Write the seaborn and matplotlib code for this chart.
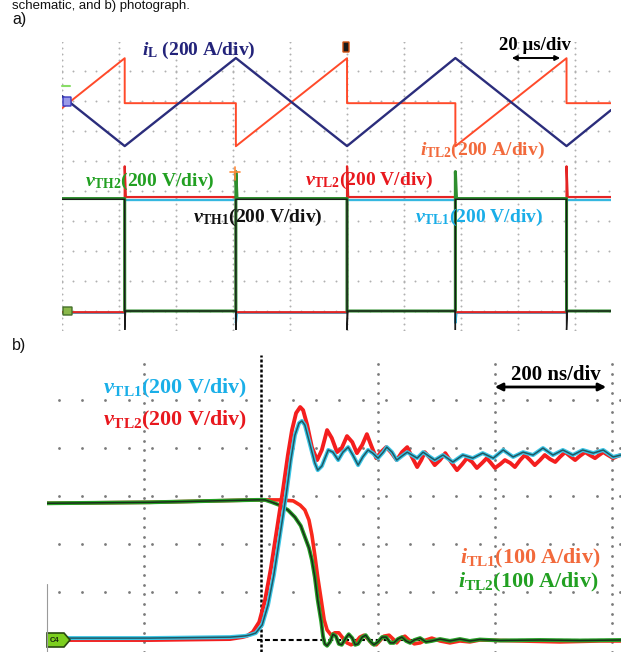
import numpy as np
import pandas as pd
import matplotlib
matplotlib.use("Agg")
import matplotlib.pyplot as plt
from matplotlib.patches import Polygon, FancyBboxPatch
import seaborn as sns

# ---------------- panel a) : 20 us/div, 200 A/div, 200 V/div ----------------
a_t_iL = [0, 22, 61, 100, 138, 177, 192.6]                      # us
a_iL = [33, -300, 287, -300, 287, -300, -60]                     # A

a_t_iTL2 = [0, 22, 22, 61, 61, 100, 100, 138, 138, 177, 177, 192.6]
a_iTL2 = [-33, 300, 0, 0, -287, 300, 0, 0, -287, 300, 0, 0]

a_t_vTH2 = [0, 22, 22, 61, 61, 61.4, 100, 100, 138, 138, 138.4, 177, 177, 192.6]
a_vTH2 = [750, 750, 0, 0, 930, 750, 750, 0, 0, 930, 750, 750, 0, 0]  # V

a_t_vTL2 = [0, 22, 22, 22.4, 61, 61, 100, 100, 100.4, 138, 138, 177, 177, 177.4, 192.6]
a_vTL2 = [-8, -8, 965, 760, 760, -8, -8, 965, 760, 760, -8, -8, 965, 760, 760]

a_t_vTH1 = [0, 22, 22, 22.3, 61, 61, 61, 100, 100, 100.3, 138, 138, 138, 177, 177, 177.3, 192.6]
a_vTH1 = [745, 745, -130, 0, 0, -130, 745, 745, -130, 0, 0, -130, 745, 745, -130, 0, 0]

a_t_vTL1 = [0, 22, 22, 61, 61, 61.4, 100, 100, 138, 138, 138.4, 177, 177, 192.6]
a_vTL1 = [-12, -12, 740, 740, -80, -12, -12, 740, 740, -80, -12, -12, 740, 740]

# ---------------- panel b) : 200 ns/div, 200 V/div, 100 A/div ----------------
b_t_vTL1 = [-366, -190, -53, -27, -19, -9, 2, 12, 22, 32, 43, 51, 58, 65, 70, 75, 84, 92, 97,
            104, 115, 123, 132, 140, 149, 157, 166, 174, 183, 191, 200, 209, 215, 224, 232,
            241, 250, 258, 267, 277, 297, 311, 328, 345, 362, 379, 397, 414, 431, 448, 465,
            482, 499, 516, 533, 550, 568, 585, 602, 615]
b_vTL1 = [8, 8, 12, 17, 21, 29, 63, 146, 271, 429, 604, 750, 854, 904, 913, 896, 813, 738, 708,
          725, 792, 783, 750, 783, 804, 771, 729, 763, 792, 779, 758, 783, 804, 783, 750,
          767, 783, 771, 758, 783, 750, 771, 742, 771, 758, 779, 758, 792, 763, 783, 771,
          800, 771, 792, 771, 792, 779, 792, 763, 771]

b_t_vTL2 = [-366, -190, -53, -32, -24, -14, -3, 7, 17, 27, 38, 46, 53, 60, 67, 72, 79, 87, 96,
            104, 113, 121, 130, 138, 147, 156, 164, 173, 181, 188, 197, 205, 214, 222, 232,
            241, 250, 258, 267, 274, 280, 289, 297, 306, 315, 325, 335, 344, 352, 361, 369,
            378, 386, 393, 400, 409, 417, 426, 434, 443, 451, 460, 468, 477, 485, 494, 503,
            511, 520, 528, 537, 545, 554, 562, 571, 578, 585, 593, 602, 610, 615]
b_vTL2 = [0, 0, 4, 12, 17, 33, 75, 167, 300, 458, 633, 771, 875, 946, 971, 958, 896, 804, 750,
          792, 875, 842, 783, 800, 850, 825, 779, 813, 858, 813, 758, 783, 804, 783, 750,
          783, 804, 763, 721, 750, 783, 758, 729, 750, 779, 742, 708, 733, 758, 742, 717,
          738, 758, 738, 717, 733, 750, 738, 721, 750, 771, 750, 729, 750, 771, 754, 742,
          763, 783, 767, 750, 767, 783, 771, 758, 771, 783, 771, 758, 767, 771]

b_t_iTL1 = [-366, -190, -7, 32, 55, 67, 75, 82, 87, 92, 97, 103, 108, 113, 120, 126, 133, 140,
            147, 154, 161, 169, 176, 183, 190, 197, 203, 210, 219, 226, 232, 239, 246, 253,
            262, 272, 282, 292, 306, 323, 340, 357, 374, 443, 511, 579, 615]
b_iTL1 = [285, 287, 292, 292, 290, 281, 271, 250, 219, 177, 131, 83, 42, 21, 10, 15, 15, 4,
          -6, -10, -6, 6, 10, 2, -8, -10, -2, 8, 10, 2, -6, 4, 8, 0,
          -8, -6, 0, 4, -2, -6, -2, -4, 0, -2, -4, -2, -2]

b_t_iTL2 = [-366, -190, -7, 7, 19, 32, 46, 58, 68, 75, 82, 87, 92, 97, 103, 106, 109, 113, 118,
            123, 128, 133, 138, 145, 150, 156, 161, 166, 173, 179, 186, 193, 200, 207, 214,
            221, 227, 234, 241, 248, 255, 262, 272, 282, 292, 306, 323, 340, 357, 374, 409,
            477, 545, 615]
b_iTL2 = [285, 287, 292, 292, 287, 281, 271, 256, 238, 215, 192, 167, 131, 83, 38, 8, -8, -12, -4,
          12, 8, -8, -10, 4, 12, 4, -10, -8, 6, 10, -2, -10, -4, 6, 6,
          -6, -6, 2, 6, -2, -6, 0, 4, -4, -2, 2, -2, 2, -2, 1, -1,
          0, -1, 0]

W, H = 621, 652
sns.set_theme(style="white")
plt.rcParams['font.family'] = ['Liberation Serif', 'DejaVu Serif']
plt.rcParams['font.weight'] = 'bold'
plt.rcParams['mathtext.fontset'] = 'custom'
plt.rcParams['mathtext.rm'] = 'Liberation Serif:bold'
plt.rcParams['mathtext.it'] = 'Liberation Serif:italic:bold'
plt.rcParams['mathtext.bf'] = 'Liberation Serif:bold'

fig = plt.figure(figsize=(W / 100, H / 100), dpi=100)
fig.patch.set_facecolor('white')


def fx(x):
    return x / W


def fy(y):
    return 1 - y / H


def T(x, y, s, **kw):
    kw.setdefault('va', 'center')
    kw.setdefault('ha', 'left')
    fig.text(fx(x), fy(y), s, **kw)


def dot_grid(ax, xs, ys, xlim, ylim, dx, dy, color, ms):
    for x in xs:
        yy = np.arange(ylim[0], ylim[1], dy)
        ax.plot(np.full_like(yy, x), yy, ls='none', marker='o', ms=ms, mew=0, color=color, zorder=0)
    for y in ys:
        xx = np.arange(xlim[0], xlim[1], dx)
        ax.plot(xx, np.full_like(xx, y), ls='none', marker='o', ms=ms, mew=0, color=color, zorder=0)


# ---------------- axes a ----------------
axa = fig.add_axes([fx(62), fy(330), 549 / W, 288 / H])
axa.set_xlim(0, 192.6)
axa.set_ylim(-0.633, 8.97)
axa.set_axis_off()
dot_grid(axa, np.arange(0, 181, 20), np.arange(0, 9, 1), (0, 192.6), (-0.633, 8.97),
         4, 0.2, '#B0B0B0', 1.4)


def line(ax, t, y, color, lw, z):
    sns.lineplot(x=np.asarray(t, float), y=np.asarray(y, float), ax=ax, sort=False,
                 estimator=None, color=color, lw=lw, legend=False, zorder=z)


line(axa, a_t_vTL1, np.array(a_vTL1) / 200, '#35B8E0', 1.6, 2)
line(axa, a_t_vTL2, np.array(a_vTL2) / 200, '#E42424', 1.6, 3)
line(axa, a_t_vTH2, np.array(a_vTH2) / 200, '#2E8E2E', 2.2, 4)
line(axa, a_t_vTH1, np.array(a_vTH1) / 200, '#1A1A1A', 1.0, 5)
line(axa, a_t_iTL2, 6.93 + np.array(a_iTL2) / 200, '#FF4A2A', 1.4, 6)
line(axa, a_t_iL, 7.0 + np.array(a_iL) / 200, '#2B2D7C', 1.7, 7)

# ---------------- axes b ----------------
bx0, bx1 = -365.8, 615.4
by0, by1 = -0.25, 5.94
axb = fig.add_axes([fx(47), 0, 574 / W, 297 / H])
axb.set_xlim(bx0, bx1)
axb.set_ylim(by0, by1)
axb.set_axis_off()
dot_grid(axb, [-200, 200, 400, 600], [1, 2, 3, 4, 5], (bx0 + 20, bx1), (by0, by1),
         40, 0.2, '#7A7A7A', 2.0)
axb.axvline(0, color='black', lw=1.8, ls=(0, (1.2, 0.8)), zorder=1)
axb.plot([-7, bx1], [0, 0], color='black', lw=1.5, ls=(0, (2.4, 1.4)), zorder=1)

line(axb, b_t_iTL1, np.array(b_iTL1) / 100, '#F8281C', 2.6, 3)
line(axb, b_t_iTL2, np.array(b_iTL2) / 100, '#25A025', 2.8, 4)
line(axb, b_t_iTL2, np.array(b_iTL2) / 100, '#1B2B1B', 1.1, 5)
line(axb, b_t_vTL2, np.array(b_vTL2) / 200, '#F41E1E', 2.8, 6)
line(axb, b_t_vTL1, np.array(b_vTL1) / 200, '#3CC6E6', 2.9, 7)
line(axb, b_t_vTL1, np.array(b_vTL1) / 200, '#1F5864', 1.1, 8)

# ---------------- texts ----------------
sans = dict(family=['Liberation Sans', 'DejaVu Sans'], weight='normal', color='#111111')
fig.text(fx(12), fy(9), 'schematic, and b) photograph.', va='baseline', ha='left', fontsize=9.5, **sans)
fig.text(fx(12), fy(24), 'a)', va='baseline', ha='left', fontsize=11.5, **sans)
fig.text(fx(12), fy(350), 'b)', va='baseline', ha='left', fontsize=11.5, **sans)

fa = 14
T(142, 50, r'$i_{\mathrm{L}}$ (200 A/div)', color='#23237A', fontsize=fa)
T(535, 45, '20 µs/div', color='black', fontsize=fa - 0.5, ha='center')
T(420, 150, r'$i_{\mathrm{TL2}}$(200 A/div)', color='#F26A3C', fontsize=fa)
T(85, 181, r'$v_{\mathrm{TH2}}$(200 V/div)', color='#22A022', fontsize=fa)
T(305, 180, r'$v_{\mathrm{TL2}}$(200 V/div)', color='#E8181E', fontsize=fa)
T(193, 217, r'$v_{\mathrm{TH1}}$(200 V/div)', color='#111111', fontsize=fa)
T(415, 217, r'$v_{\mathrm{TL1}}$(200 V/div)', color='#1AAEE8', fontsize=fa)

fb = 15.8
T(103, 388, r'$v_{\mathrm{TL1}}$(200 V/div)', color='#1AAFE8', fontsize=fb)
T(103, 420, r'$v_{\mathrm{TL2}}$(200 V/div)', color='#E8181E', fontsize=fb)
T(556, 375, '200 ns/div', color='black', fontsize=fb - 0.8, ha='center')
T(460, 558, r'$i_{\mathrm{TL1}}$(100 A/div)', color='#F26A3C', fontsize=fb)
T(458, 582, r'$i_{\mathrm{TL2}}$(100 A/div)', color='#22A022', fontsize=fb)

# scale arrows
fig.add_artist(matplotlib.patches.FancyArrowPatch((fx(509), fy(58)), (fx(563), fy(58)),
               transform=fig.transFigure, arrowstyle='<|-|>', mutation_scale=7, lw=1.4, color='black'))
fig.add_artist(matplotlib.patches.FancyArrowPatch((fx(492), fy(387)), (fx(609), fy(387)),
               transform=fig.transFigure, arrowstyle='<|-|>', mutation_scale=11, lw=2.0, color='black'))

# scope channel markers
fig.add_artist(FancyBboxPatch((fx(63), fy(106)), 8 / W, 9 / H, boxstyle='round,pad=0',
               transform=fig.transFigure, fc='#9A9AE8', ec='#3A3AC0', lw=1))
fig.add_artist(matplotlib.lines.Line2D([fx(62), fx(70)], [fy(86), fy(86)], transform=fig.transFigure,
               color='#88DD66', lw=1.5))
fig.add_artist(FancyBboxPatch((fx(63), fy(315)), 9 / W, 8 / H, boxstyle='round,pad=0',
               transform=fig.transFigure, fc='#8AB84A', ec='#44702A', lw=1))
fig.add_artist(FancyBboxPatch((fx(343), fy(52)), 6 / W, 10 / H, boxstyle='round,pad=0',
               transform=fig.transFigure, fc='#1A1A1A', ec='#D05010', lw=1))
fig.add_artist(matplotlib.lines.Line2D([fx(230), fx(240)], [fy(172), fy(172)], transform=fig.transFigure,
               color='#FF8A3A', lw=1.2))
fig.add_artist(matplotlib.lines.Line2D([fx(235), fx(235)], [fy(167), fy(180)], transform=fig.transFigure,
               color='#FF8A3A', lw=1.2))

# C4 marker in panel b
pts = [(47, 633), (64, 633), (70, 640), (64, 647), (47, 647)]
fig.add_artist(Polygon([(fx(x), fy(y)) for x, y in pts], closed=True, transform=fig.transFigure,
               fc='#7CCF1E', ec='#2A4A10', lw=1.2))
fig.text(fx(55), fy(640), 'C4', fontsize=5.5, color='#1A2A10', ha='center', va='center',
         family=['Liberation Sans', 'DejaVu Sans'], weight='bold')
fig.add_artist(matplotlib.lines.Line2D([fx(47), fx(47)], [fy(584), fy(652)], transform=fig.transFigure,
               color='#9A9A9A', lw=0.8))

fig.savefig('out.png', dpi=100, facecolor='white')
